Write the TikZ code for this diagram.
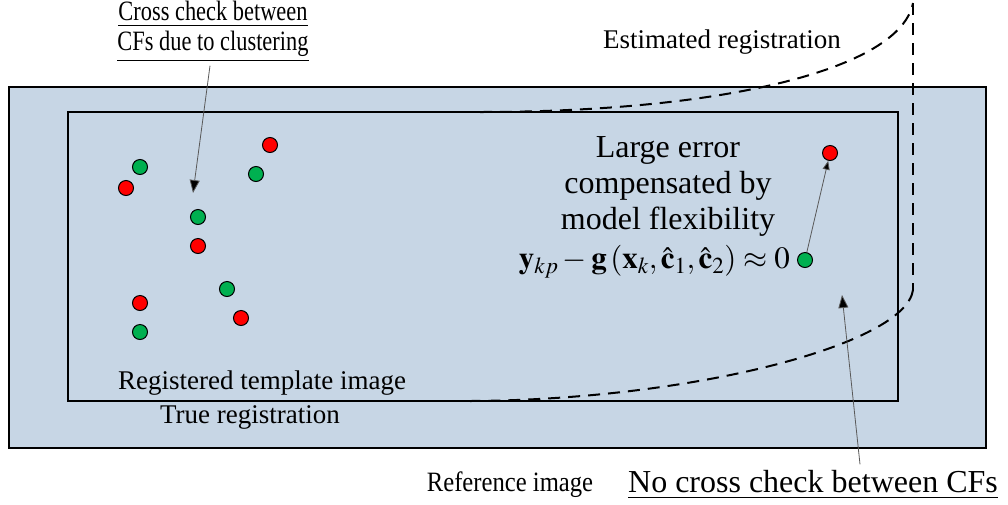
\documentclass[tikz,border=0pt]{standalone}
\usepackage{mathptmx}
\usepackage{fontspec}
\setmainfont{Liberation Serif}
\usetikzlibrary{arrows.meta}
\definecolor{imgfill}{RGB}{199,214,229}
\definecolor{dotred}{RGB}{255,0,0}
\definecolor{dotgreen}{RGB}{0,176,80}
\tikzset{
  txt/.style={font=\fontsize{27}{32}\selectfont, inner sep=0pt},
  bigtxt/.style={font=\fontsize{32}{36}\selectfont, inner sep=0pt},
  frame/.style={draw=black, line width=1.6pt, fill=imgfill},
  reg/.style={draw=black, line width=2pt, dash pattern=on 12pt off 8pt},
  rdot/.style={circle, draw=black, line width=1pt, fill=dotred, minimum size=15pt, inner sep=0pt},
  gdot/.style={circle, draw=black, line width=1pt, fill=dotgreen, minimum size=15pt, inner sep=0pt},
  pointer/.style={draw=black!65, line width=0.8pt, -{Triangle[length=13pt,width=10pt,fill=black]}},
}
\begin{document}
\begin{tikzpicture}[x=1pt,y=-1pt]
\useasboundingbox (0,0) rectangle (1008,504);
% reference image
\draw[frame] (9,87) rectangle (986,448);
% template image
\draw[frame] (68,112) rectangle (898,401);
% estimated registration
\draw[reg] (480,112) .. controls (720,112) and (900,70) .. (913,3);
\draw[reg] (913,3) -- (913,290);
\draw[reg] (913,290) .. controls (905,345) and (690,400) .. (470,401);
% dots left
\node[gdot] (g1) at (140,167) {};
\node[rdot] (r1) at (126,188) {};
\node[rdot] (r2) at (270,145) {};
\node[gdot] (g2) at (256,174) {};
\node[gdot] (g3) at (198,217) {};
\node[rdot] (r3) at (198,246) {};
\node[gdot] (g4) at (227,289) {};
\node[rdot] (r4) at (241,318) {};
\node[rdot] (r5) at (140,303) {};
\node[gdot] (g5) at (140,332) {};
% dots right
\node[rdot] (r6) at (830,153) {};
\node[gdot] (g6) at (805,260) {};
% texts
\node[txt, font=\fontsize{28}{30}\selectfont, align=center] (cross) at (213,32) {\scalebox{0.8}[1]{\underline{Cross check between}}\\\scalebox{0.8}[1]{\underline{CFs due to clustering}}};
\node[txt] (est) at (722,42) {Estimated registration};
\node[bigtxt, align=center] (large) at (668,186) {Large error\\compensated by\\model flexibility};
\node[txt, font=\fontsize{31}{36}\selectfont, anchor=east] (eq) at (790,262) {$\mathbf{y}_{kp}-\mathbf{g}\left(\mathbf{x}_k,\hat{\mathbf{c}}_1,\hat{\mathbf{c}}_2\right)\approx 0$};
\node[txt] (regt) at (262,383) {Registered template image};
\node[txt] (truer) at (250,417) {True registration};
\node[txt, font=\fontsize{28}{32}\selectfont] (refimg) at (510,485) {\scalebox{0.88}[1]{Reference image}};
\node[bigtxt] (nocross) at (813,485) {\underline{No cross check between CFs}};
% pointers
\coordinate (cend) at (193,193);
\coordinate (nend) at (842,295);
\draw[pointer] (cross.south -| 210,0) ++(0,3) -- (cend);
\draw[pointer] (nocross.north -| 860,0) ++(0,-6) -- (nend);
\draw[pointer, -{Triangle[length=9pt,width=7pt,fill=black]}] (g6) -- (r6);
\end{tikzpicture}
\end{document}
